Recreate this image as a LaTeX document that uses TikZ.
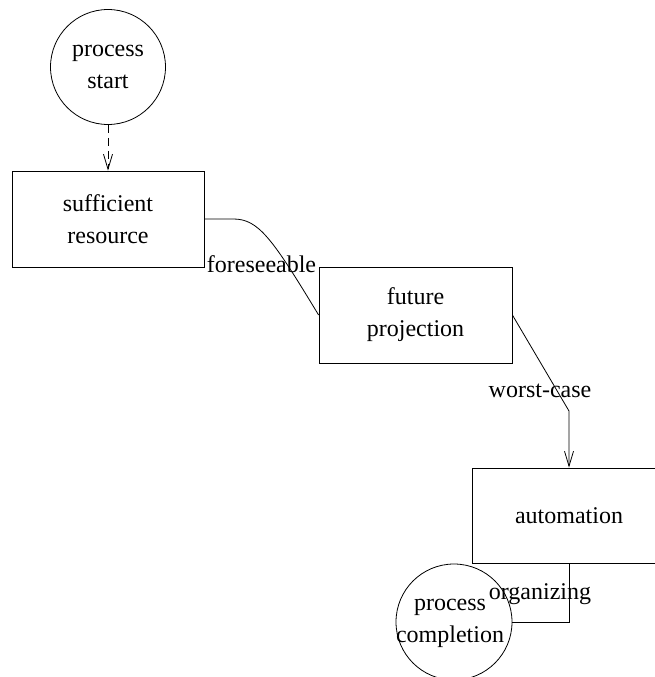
\documentclass[tikz,border=0pt]{standalone}
\usepackage{fontspec}
\setmainfont{Liberation Serif}
\usetikzlibrary{arrows.meta}
\begin{document}
\begin{tikzpicture}[x=1pt,y=-1pt,
  every node/.style={font=\fontsize{24}{32}\selectfont},
  line/.style={line width=0.8pt},
  box/.style={draw,line width=0.8pt,rectangle,inner sep=0pt,align=center},
  circ/.style={draw,line width=0.8pt,circle,inner sep=0pt,align=center},
  tip/.style={-{Straight Barb[length=15pt,width=9pt,line width=0.8pt]}},
  lbl/.style={anchor=base,inner sep=0pt}]
\useasboundingbox (0,0) rectangle (655,677);
\clip (0,0) rectangle (655,677);
\node[circ,minimum size=115pt] (start) at (108,67) {process\\start};
\node[box,minimum width=192pt,minimum height=96pt] (suff) at (108,219) {sufficient\\resource};
\node[box,minimum width=193pt,minimum height=96pt] (fut) at (415.5,315) {future\\projection};
\node[box,minimum width=193pt,minimum height=95pt] (auto) at (569,515.5) {automation};
\node[circ,minimum size=116pt] (comp) at (454,622) {};
\node[align=center,inner sep=0pt] (comptext) at (450,623) {process\\completion};
\coordinate (w) at (569,411);
\coordinate (o) at (auto.south |- comp.east);
\draw[line,tip,dash pattern=on 8pt off 5pt] (start.south) -- (suff.north);
\draw[line] (suff.east) -- ++(29,0) .. controls ++(25,0) and (272,238) .. (fut.west);
\node[lbl] (l1) at (261.5,272) {foreseeable};
\draw[line,tip] (fut.east) -- (w) -- (auto.north);
\node[lbl] (l2) at (540,397) {worst-case};
\draw[line] (auto.south) -- (o) -- (comp.east);
\node[lbl] (l3) at (540,599) {organizing};
\end{tikzpicture}
\end{document}
